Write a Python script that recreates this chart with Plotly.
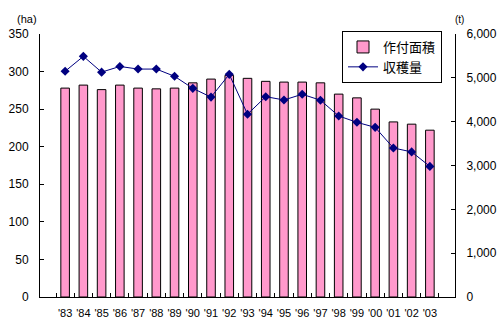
import plotly.graph_objects as go

years = ["'83", "'84", "'85", "'86", "'87", "'88", "'89", "'90", "'91", "'92", "'93",
         "'94", "'95", "'96", "'97", "'98", "'99", "'00", "'01", "'02", "'03"]
area_ha = [278, 282, 276, 282, 278, 277, 278, 285, 290, 295, 291,
           287, 286, 286, 285, 270, 265, 250, 233, 230, 222]
harvest_t = [5150, 5490, 5130, 5260, 5200, 5200, 5035, 4760, 4560, 5080, 4170,
             4570, 4495, 4625, 4490, 4130, 3985, 3870, 3400, 3310, 2980]

font_family = "Noto Sans CJK JP, Arial, sans-serif"
tick_family = "Liberation Sans, Arial, sans-serif"

W, H = 502, 329
ML, MR, MT, MB = 40, 47, 34, 32
plot_w = W - ML - MR
plot_h = H - MT - MB

fig = go.Figure()
fig.add_trace(go.Bar(
    x=years, y=area_ha, name="作付面積",
    marker=dict(color="#FF99CC", line=dict(color="black", width=1)),
    yaxis="y",
))
fig.add_trace(go.Scatter(
    x=years, y=harvest_t, name="収穫量", mode="lines+markers",
    line=dict(color="#000080", width=1),
    marker=dict(symbol="diamond", size=7, color="#000080"),
    yaxis="y2",
))

fig.update_layout(
    width=W, height=H,
    margin=dict(l=ML, r=MR, t=MT, b=MB, autoexpand=False),
    paper_bgcolor="white", plot_bgcolor="white",
    font=dict(family=tick_family, size=12, color="black"),
    bargap=0.53,
    showlegend=True,
    legend=dict(
        x=(342 - ML) / plot_w, y=(H - MB - 31) / plot_h, xanchor="left", yanchor="top",
        bordercolor="black", borderwidth=1, bgcolor="white",
        font=dict(family=font_family, size=13), tracegroupgap=0,
        itemwidth=30,
    ),
    xaxis=dict(
        type="category", showline=True, linecolor="black", linewidth=1,
        ticks="inside", tickson="boundaries", ticklen=4, tickcolor="black",
        showgrid=False, tickfont=dict(size=11), tickangle=0, automargin=False,
        ticklabelstandoff=6,
    ),
    yaxis=dict(
        range=[0, 350], dtick=50, showline=True, linecolor="black", linewidth=1,
        ticks="inside", ticklen=4, tickcolor="black", showgrid=False, zeroline=False,
        automargin=False, tickfont=dict(size=12), ticklabelstandoff=8,
    ),
    yaxis2=dict(
        range=[0, 6000], dtick=1000, overlaying="y", side="right",
        showline=True, linecolor="black", linewidth=1, tickformat=",",
        ticks="inside", ticklen=4, tickcolor="black", showgrid=False, zeroline=False,
        automargin=False, tickfont=dict(size=12), ticklabelstandoff=8,
    ),
)
fig.add_annotation(text="(ha)", x=(27 - ML) / plot_w, y=(H - MB - 19) / plot_h,
                   xref="paper", yref="paper", showarrow=False,
                   xanchor="center", yanchor="middle", font=dict(size=11))
fig.add_annotation(text="(t)", x=(460 - ML) / plot_w, y=(H - MB - 20) / plot_h,
                   xref="paper", yref="paper", showarrow=False,
                   xanchor="center", yanchor="middle", font=dict(size=10))

fig.write_html("out.html")
